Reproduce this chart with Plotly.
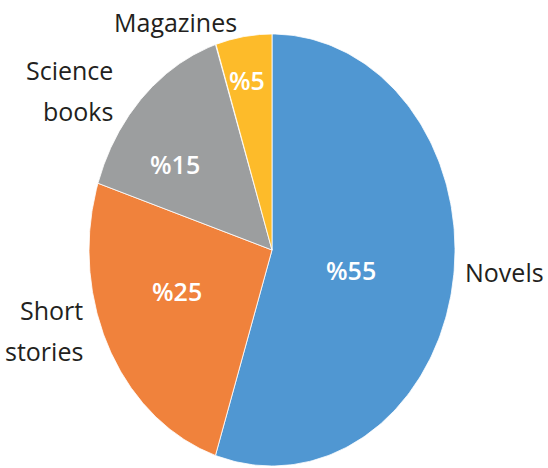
import numpy as np
import plotly.graph_objects as go

categories = ["Novels", "Short stories", "Science books", "Magazines"]
values = [55, 25, 15, 5]
inner_labels = ["%55", "%25", "%15", "%5"]
outer_labels = [["Novels"], ["Short", "stories"], ["Science", "books"], ["Magazines"]]

# style
colors = ["#5097D2", "#F0823C", "#9C9E9F", "#FDBB2A"]
inner_offset = [(-3.1, 0.44), (-6.9, 0.55), (8.1, 0.66), (1.0, 0.80)]   # (deg offset, radial fraction)
outer_offset = [(3.4, 1.05, "left"), (-6.9, 1.09, "right"), (4.2, 1.13, "right"), (17.4, 1.18, "center")]
line_gap_px = 41

W, H = 548, 468
cx, cy, rx, ry = 272, 250, 183, 216

fig = go.Figure()
total = sum(values)
start = 90.0
mids = []
for cat, v, col in zip(categories, values, colors):
    end = start - 360.0 * v / total
    th = np.radians(np.linspace(start, end, 200))
    xs = np.concatenate([[0], np.cos(th), [0]])
    ys = np.concatenate([[0], np.sin(th), [0]])
    fig.add_trace(go.Scatter(x=xs, y=ys, mode="lines", fill="toself", fillcolor=col,
                             line=dict(color="white", width=0.8), name=cat,
                             hoverinfo="name", showlegend=False))
    mids.append((start + end) / 2)
    start = end

for lab, m, (da, r) in zip(inner_labels, mids, inner_offset):
    a = np.radians(m + da)
    fig.add_annotation(x=r * np.cos(a), y=r * np.sin(a), text=lab, showarrow=False,
                       font=dict(family="Open Sans", size=25, color="white", weight=600),
                       xanchor="center", yanchor="middle")

gap = line_gap_px / ry
for lines, m, (da, r, anc) in zip(outer_labels, mids, outer_offset):
    a = np.radians(m + da)
    x0, y0 = r * np.cos(a), r * np.sin(a)
    n = len(lines)
    for i, ln in enumerate(lines):
        yy = y0 + ((n - 1) / 2 - i) * gap
        fig.add_annotation(x=x0, y=yy, text=ln, showarrow=False,
                           font=dict(family="Open Sans", size=25, color="#231F20"),
                           xanchor=anc, yanchor="middle")

fig.update_layout(
    width=W, height=H, margin=dict(l=0, r=0, t=0, b=0),
    paper_bgcolor="white", plot_bgcolor="white",
    xaxis=dict(range=[-cx / rx, (W - cx) / rx], visible=False, fixedrange=True),
    yaxis=dict(range=[-(H - cy) / ry, cy / ry], visible=False, fixedrange=True),
)
fig.write_html("out.html", config={"displayModeBar": False},
               post_script="document.body.style.margin='0';document.body.style.overflow='hidden';")
